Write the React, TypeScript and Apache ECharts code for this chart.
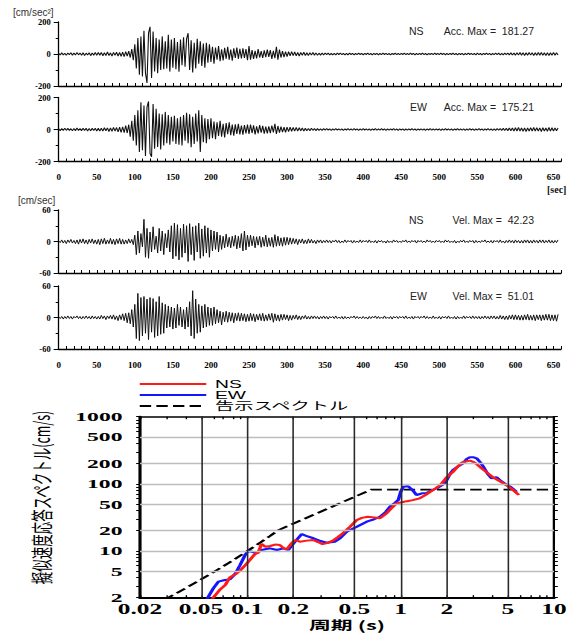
import React, { useEffect, useRef } from "react";
import * as echarts from "echarts";

// ---------------- waveform data (sampled every DT seconds) ----------------
const DT = 2;
const ACC_NS = [
  3,-6,7,-5,4,-8,6,-4,8,-7,5,-6,9,-5,6,-8,7,-9,5,-6,8,-10,6,-7,9,
  -8,10,-7,9,-11,8,-10,12,-9,7,-12,10,-8,11,-13,9,-14,12,-16,15,-13,18,-22,30,-38,
  60,-90,100,-130,110,-140,145,-120,-181.27,130,170,-150,140,-110,100,-120,90,-100,110,-95,80,-90,120,-110,90,
  -85,100,-95,75,-110,90,-70,105,-80,95,130,-100,85,-115,70,-90,95,-60,80,-75,65,-85,70,-55,60,
  -50,45,-60,40,-35,50,-45,30,-40,38,-30,45,-35,28,-42,35,-25,40,-30,32,-28,36,-24,30,-38,
  50,-35,25,-30,20,-28,30,-22,18,-25,22,-20,28,-18,24,-30,20,-26,45,-35,28,-22,18,-20,15,
  -16,14,-12,15,-10,13,-11,9,-12,10,-8,11,-9,7,-10,8,-6,9,-7,6,-8,5,-7,6,-5,
  5,-4,6,-5,3,-6,4,-5,6,-3,5,-4,3,-5,4,-6,5,-3,4,-5,3,-4,5,-3,4,
  -5,4,-3,5,-4,3,-5,4,-3,4,-5,3,-4,5,-3,4,-4,3,-5,4,-3,5,-4,3,-4,
  4,-3,5,-4,3,-4,5,-3,4,-5,3,-4,4,-3,5,-4,3,-5,4,-3,4,-4,5,-3,4,
  -4,5,-3,4,-5,3,-4,4,-3,5,-4,3,-5,4,-3,4,-5,3,-4,5,-3,4,-4,3,-5,
  5,-4,3,-5,4,-3,5,-4,4,-5,3,-4,5,-4,6,-5,4,-6,5,-4,6,-5,7,-6,5,
  -7,8,-6,9,-7,8,-9,7,-8,9,-6,8,-9,7,-8,10,-7,9,-8,7,-9,8,-10,7,-8,
  9,-7,8,-6,
];
const ACC_EW = [
  4,-7,5,-6,8,-5,7,-6,5,-8,6,-7,9,-6,5,-7,8,-6,7,-9,6,-8,7,-6,8,
  -9,7,-10,8,-9,11,-8,10,-12,9,-11,13,-10,12,-15,14,-18,16,-20,25,-22,30,-45,55,-70,
  90,-100,120,-140,170,-130,150,-165,140,175.21,-150,-170,160,-120,130,-110,100,-125,95,-100,110,-85,90,-95,80,
  -75,85,-90,70,-95,80,-100,90,-70,105,-85,95,-110,80,-90,100,-75,120,-140,90,-80,70,-85,65,-60,
  70,-55,50,-60,45,-40,55,-45,35,-50,40,-30,45,-35,30,-38,32,-28,35,-30,25,-32,28,-24,30,
  -28,30,-22,26,-30,20,-25,28,-20,22,-26,18,-24,20,-22,25,-18,35,-28,22,-20,18,-16,14,-17,
  15,-13,14,-11,12,-10,13,-9,11,-8,10,-9,7,-8,6,-7,8,-5,6,-7,5,-6,4,-5,6,
  -4,5,-3,4,-5,3,-4,5,-3,4,-4,3,-5,4,-3,5,-4,3,-4,5,-3,4,-5,3,-4,
  5,-3,4,-4,3,-5,4,-3,5,-4,3,-4,5,-3,4,-5,3,-4,4,-3,5,-4,3,-5,4,
  -3,4,-5,3,-4,4,-3,5,-4,3,-5,4,-3,4,-4,3,-5,4,-3,5,-4,3,-4,4,-3,
  4,-5,3,-4,5,-3,4,-4,3,-5,4,-3,5,-4,3,-4,4,-5,3,-4,5,-3,4,-5,3,
  -4,5,-3,4,-5,4,-3,5,-4,3,-5,4,-6,5,-4,6,-5,7,-6,8,-7,9,-8,10,-9,
  11,-9,12,-10,9,-11,10,-12,9,-10,11,-9,12,-10,11,-9,10,-12,11,-10,9,-11,12,-10,11,
  -9,10,-8,9,
];
const VEL_NS = [
  1,-2,3,-3,2,-4,3,-2,4,-3,2,-4,3,-5,4,-3,5,-4,3,-5,4,-3,5,-4,3,
  -5,4,-6,5,-4,6,-5,3,-4,6,-5,4,-6,5,-4,6,-5,4,-5,3,-4,5,-3,4,-6,
  12,-25,20,-22,15,-10,42.23,-30,25,-32,18,-20,28,-15,10,-22,25,-18,20,-25,15,-12,22,-20,30,
  -33,35,-28,32,-35,25,-30,33,-22,30,-38,34,-25,28,-36,30,-20,35,-32,24,-28,30,-22,26,-30,
  22,-18,20,-15,18,-20,12,-15,10,-12,14,-10,8,-12,10,-9,12,-14,10,-12,15,-18,20,-16,12,
  -10,12,-8,10,-12,9,-7,10,-11,8,-9,12,-10,7,-9,8,-11,13,-9,10,-8,7,-9,8,-7,
  8,-6,7,-5,6,-4,5,-6,4,-3,5,-4,3,-4,5,-3,4,-3,2,-4,3,-2,3,-3,2,
  -2,3,-2,2,-3,2,-1,3,-2,2,-3,1,-2,3,-2,2,-1,2,-3,2,-2,1,-2,3,-2,
  2,-1,2,-2,3,-2,1,-2,2,-3,2,-1,2,-2,1,-3,2,-2,1,-2,3,-1,2,-2,1,
  -2,2,-1,3,-2,1,-2,2,-1,2,-3,2,-1,2,-2,1,-2,3,-1,2,-2,1,-2,2,-1,
  2,-2,1,-2,3,-1,2,-2,1,-2,2,-3,1,-2,2,-1,3,-2,1,-2,2,-1,2,-3,2,
  -2,1,-2,2,-1,3,-2,1,-2,2,-3,2,-1,2,-2,3,-2,1,-3,2,-2,3,-2,2,-3,
  3,-2,2,-3,2,-3,3,-2,3,-3,2,-3,3,-2,2,-3,3,-2,3,-3,2,-2,3,-3,2,
  -3,2,-2,3,
];
const VEL_EW = [
  1,-2,2,-3,2,-2,3,-2,2,-3,2,-1,3,-2,2,-3,2,-2,3,-2,2,-3,3,-2,2,
  -3,2,-3,4,-2,3,-4,3,-2,4,-3,5,-4,3,-6,5,-4,7,-6,8,-10,9,-12,15,-18,
  25,-40,46,-44,38,-35,40,-30,35,-42,38,-28,36,-38,30,-35,40,-32,28,-30,25,-20,22,-18,20,
  -22,18,-20,25,-15,20,-18,15,-22,20,-18,30,-35,51.01,-40,35,-30,25,-28,22,-20,25,-18,20,-15,
  18,-15,20,-12,15,-10,12,-14,10,-8,12,-9,10,-7,9,-10,8,-6,9,-7,8,-6,7,-8,6,
  -7,8,-6,7,-8,6,-5,7,-6,8,-7,5,-6,7,-5,8,-9,7,-6,5,-7,6,-5,6,-4,
  5,-6,4,-5,4,-3,5,-4,3,-4,3,-2,4,-3,2,-3,3,-2,3,-2,2,-3,2,-2,3,
  -2,2,-3,2,-1,2,-2,3,-2,1,-2,2,-3,2,-2,1,-2,2,-1,3,-2,2,-2,1,-2,
  2,-2,1,-3,2,-2,2,-1,3,-2,2,-2,1,-2,3,-2,1,-2,2,-3,2,-1,2,-2,2,
  -1,2,-2,3,-2,1,-2,2,-3,2,-1,2,-2,2,-1,3,-2,2,-2,1,-2,3,-2,1,-2,
  2,-3,2,-1,2,-2,3,-2,1,-2,2,-3,2,-2,1,-2,3,-2,2,-1,2,-2,3,-2,2,
  -2,2,-3,2,-2,3,-2,2,-3,3,-2,3,-3,2,-3,4,-3,3,-4,3,-4,4,-3,5,-4,
  5,-4,4,-5,4,-5,5,-4,6,-5,4,-5,5,-6,5,-4,5,-6,5,-5,6,-5,6,-6,5,
  -6,5,-7,6,
];
const TIME_TICK_LABEL_STEP = 50;
const ACC_RANGE = 200;
const VEL_RANGE = 60;
const TIME_MAX = 660;

// ---------------- response spectrum data ----------------
const NS_T = [0.058,0.060,0.066,0.072,0.077,0.084,0.090,0.097,0.104,0.112,0.118,0.124,0.131,0.141,0.152,0.163,0.172,0.181,0.195,0.205,0.22,0.245,0.27,0.29,0.31,0.33,0.36,0.39,0.42,0.47,0.518,0.56,0.61,0.67,0.734,0.81,0.87,0.94,1.02,1.10,1.2,1.33,1.45,1.56,1.7,1.82,2.0,2.2,2.35,2.5,2.65,2.83,3.0,3.13,3.35,3.6,4.0,4.5,5.0,5.4,5.9];
const NS_V = [1.8,2.0,2.6,3.1,4.0,4.5,5.1,6.1,7.3,8.9,9.4,12.7,11.5,11.8,12.4,12.2,11.0,10.5,13.0,14.5,13.7,14.2,14.5,13.5,12.6,13.0,14.1,16.0,18.3,23.0,28.8,31.0,32.2,31.5,30.6,36.2,43,51,53,55,57,60.6,68,76,86,96,125,151,180,206,215,221,210,197,172,151,125,107,92,81,68];
const EW_T = [0.053,0.0553,0.0601,0.0649,0.0716,0.0772,0.0838,0.0897,0.097,0.1013,0.1065,0.114,0.124,0.141,0.156,0.172,0.185,0.205,0.227,0.245,0.27,0.30,0.33,0.373,0.403,0.445,0.518,0.601,0.67,0.734,0.80,0.853,0.92,0.966,1.0,1.04,1.12,1.2,1.27,1.38,1.48,1.6,1.72,1.85,1.95,2.1,2.2,2.4,2.56,2.7,2.83,3.0,3.13,3.3,3.46,3.7,3.93,4.23,4.5,4.91,5.2,5.7];
const EW_V = [1.8,2.0,2.76,3.47,3.67,3.75,4.6,6.1,8.7,10.0,9.7,9.2,10.3,10.9,10.3,10.9,10.3,13.7,17.8,16.5,15.4,14.0,13.2,13.7,15.4,19.3,22.9,27.2,29.5,32.2,38,45.6,52,57.2,75,90,92,80,68,72,73,80,85.6,95,102,140,161,185,202,235,249,248,240,210,180,140,120,125,110,96,90,76];
const KOKUJI_T = [0.02,0.03,0.04,0.05,0.06,0.08,0.1,0.12,0.14,0.16,0.64,10];
const KOKUJI_V = [1.21,1.96,2.80,3.74,4.77,7.13,9.87,12.99,16.49,20.37,81.5,81.5];

const X_LABELS = [0.02,0.05,0.1,0.2,0.5,1,2,5,10];
const X_TICKS = [0.02,0.03,0.04,0.05,0.06,0.07,0.08,0.09,0.1,0.2,0.3,0.4,0.5,0.6,0.7,0.8,0.9,1,2,3,4,5,6,7,8,9,10];
const Y_LABELS = [2,5,10,20,50,100,200,500,1000];
const Y_TICKS = [2,3,4,5,6,7,8,9,10,20,30,40,50,60,70,80,90,100,200,300,400,500,600,700,800,900,1000];
const X_GRID = [0.05,0.1,0.2,0.5,1,2,5];
const Y_GRID = [5,10,20,50,100,200,500];
const X_MIN = 0.02, X_MAX = 10, Y_MIN = 2, Y_MAX = 1000;

// ---------------- styling ----------------
const SERIF = "'Liberation Serif', 'Times New Roman', serif";
const SANS = "'Liberation Sans', Arial, sans-serif";
const CJK = "'Liberation Sans', 'Noto Sans CJK JP', sans-serif";
const S = 1.75; // horizontal stretch of spectrum panel
const SPEC_TOP = 376;
const SPEC_W = 574 / S;
const SPEC_H = 633 - SPEC_TOP;

const lg = (v: number) => Math.log10(v);

function waveOption(): any {
  const grids = [
    { left: 58.7, top: 22, width: 502.4, height: 64 },
    { left: 58.7, top: 97.5, width: 502.4, height: 64 },
    { left: 58.7, top: 210, width: 502.4, height: 63 },
    { left: 58.7, top: 286, width: 502.4, height: 63 },
  ];
  const traces = [ACC_NS, ACC_EW, VEL_NS, VEL_EW];
  const ranges = [ACC_RANGE, ACC_RANGE, VEL_RANGE, VEL_RANGE];
  const widths = [1.1, 1.1, 1.0, 1.0];
  const xAxis = grids.map((_, i) => ({
    type: "value", gridIndex: i, min: 0, max: TIME_MAX, interval: 10,
    axisLine: { show: true, onZero: false, lineStyle: { color: "#000", width: 1.3 } },
    axisTick: { show: true, inside: true, length: 3, lineStyle: { color: "#000", width: 1 } },
    axisLabel: {
      show: i === 1 || i === 3, color: "#000", fontFamily: SERIF, fontWeight: "bold", fontSize: 9, margin: 11,
      formatter: (v: number) => (v % TIME_TICK_LABEL_STEP === 0 && v <= 650 ? String(v) : ""),
    },
    splitLine: { show: false },
  }));
  const yAxis = grids.map((_, i) => ({
    type: "value", gridIndex: i, min: -ranges[i], max: ranges[i], interval: ranges[i],
    axisLine: { show: true, onZero: false, lineStyle: { color: "#000", width: 1.3 } },
    axisTick: { show: true, length: 5, lineStyle: { color: "#000", width: 1 } },
    minorTick: { show: true, splitNumber: 2, length: 3, lineStyle: { color: "#000", width: 1 } },
    axisLabel: { color: "#000", fontFamily: SERIF, fontWeight: "bold", fontSize: 8.5, margin: 8 },
    splitLine: { show: false },
  }));
  const series = traces.map((arr, i) => ({
    type: "line", xAxisIndex: i, yAxisIndex: i, symbol: "none", silent: true,
    data: arr.map((v, k) => [k * DT, v]),
    lineStyle: { color: "#111", width: widths[i] },
  }));
  const t = (text: string, x: number, y: number, extra: any = {}) => ({
    type: "text", x, y, silent: true,
    style: { text, fill: "#222", fontFamily: SANS, fontSize: 10.5, verticalAlign: "middle", ...extra },
  });
  const graphic = [
    t("[cm/sec²]", 13, 12.5, { fill: "#333", fontSize: 10 }),
    t("[cm/sec]", 18, 200, { fill: "#333", fontSize: 10 }),
    t("[sec]", 547, 189, { fontFamily: SERIF, fontWeight: "bold", fontSize: 10, fill: "#111" }),
    t("[sec]", 547, 379, { fontFamily: SERIF, fontWeight: "bold", fontSize: 10, fill: "#111" }),
    t("NS", 409, 31),
    t("Acc. Max =  181.27", 534, 31, { align: "right" }),
    t("EW", 410, 107),
    t("Acc. Max =  175.21", 534, 107, { align: "right" }),
    t("NS", 409, 219.5),
    t("Vel. Max =  42.23", 534, 219.5, { align: "right" }),
    t("EW", 410, 295.5),
    t("Vel. Max =  51.01", 534, 295.5, { align: "right" }),
  ];
  return { animation: false, backgroundColor: "#fff", grid: grids, xAxis, yAxis, series, graphic };
}

function specOption(): any {
  const zip = (ts: number[], vs: number[]) => ts.map((tv, i) => [lg(tv), lg(vs[i])]);
  const labelFmt = (list: number[]) => (v: number) => {
    const f = list.find((x) => Math.abs(lg(x) - v) < 1e-6);
    return f === undefined ? "" : String(f);
  };
  const grid = { left: 140 / S, top: 416.7 - SPEC_TOP, width: 414 / S, height: 181 };
  const xBase = { type: "value", min: lg(X_MIN), max: lg(X_MAX), splitLine: { show: false } };
  const yBase = { type: "value", min: lg(Y_MIN), max: lg(Y_MAX), splitLine: { show: false } };
  const xAxis = [
    {
      ...xBase, position: "bottom",
      axisLine: { show: true, onZero: false, lineStyle: { color: "#000", width: 2 } },
      axisTick: { show: true, inside: true, length: 2.5, customValues: X_TICKS.map(lg), lineStyle: { color: "#000", width: 0.8 } },
      axisLabel: {
        customValues: X_LABELS.map(lg), formatter: labelFmt(X_LABELS),
        color: "#000", fontFamily: SERIF, fontWeight: "bold", fontSize: 14.5, margin: 6, lineHeight: 11,
      },
    },
    {
      ...xBase, position: "top",
      axisLine: { show: true, onZero: false, lineStyle: { color: "#000", width: 1.5 } },
      axisTick: { show: true, inside: true, length: 2.5, customValues: X_TICKS.map(lg), lineStyle: { color: "#000", width: 0.8 } },
      axisLabel: { show: false },
    },
  ];
  const yAxis = [
    {
      ...yBase, position: "left",
      axisLine: { show: true, onZero: false, lineStyle: { color: "#000", width: 1.8 } },
      axisTick: { show: true, inside: false, length: 2.2, customValues: Y_TICKS.map(lg), lineStyle: { color: "#000", width: 1 } },
      axisLabel: {
        customValues: Y_LABELS.map(lg), formatter: labelFmt(Y_LABELS),
        color: "#000", fontFamily: SERIF, fontWeight: "bold", fontSize: 13.5, margin: 10, lineHeight: 11,
      },
    },
    {
      ...yBase, position: "right",
      axisLine: { show: true, onZero: false, lineStyle: { color: "#000", width: 1.3 } },
      axisTick: { show: true, inside: false, length: 2.2, customValues: Y_TICKS.map(lg), lineStyle: { color: "#000", width: 1 } },
      axisLabel: { show: false },
    },
  ];
  const series = [
    {
      name: "_grid", type: "line", data: [], z: 1, silent: true,
      markLine: {
        silent: true, symbol: ["none", "none"], label: { show: false }, animation: false,
        data: [
          ...Y_GRID.map((v) => ({ yAxis: lg(v), lineStyle: { color: "#bdbdbd", width: 1.3, type: "solid" } })),
          ...X_GRID.map((v) => ({ xAxis: lg(v), lineStyle: { color: "#2a2a2a", width: 0.9, type: "solid" } })),
        ],
      },
    },
    {
      name: "告示スペクトル", type: "line", symbol: "none", z: 2, silent: true,
      data: zip(KOKUJI_T, KOKUJI_V),
      lineStyle: { color: "#000", width: 1.8, type: [6.5, 3] }, itemStyle: { color: "#000" },
    },
    {
      name: "EW", type: "line", symbol: "none", z: 3, silent: true,
      data: zip(EW_T, EW_V),
      lineStyle: { color: "#1515ff", width: 2 }, itemStyle: { color: "#1515ff" },
    },
    {
      name: "NS", type: "line", symbol: "none", z: 4, silent: true,
      data: zip(NS_T, NS_V),
      lineStyle: { color: "#ff1a1a", width: 2 }, itemStyle: { color: "#ff1a1a" },
    },
  ];
  const legend = {
    data: ["NS", "EW", "告示スペクトル"], orient: "vertical", left: 138 / S, top: 2.5, padding: 0,
    itemWidth: 38, itemHeight: 11, itemGap: 0, selectedMode: false,
    itemStyle: { opacity: 0 },
    textStyle: { fontFamily: CJK, fontSize: 11, color: "#000", lineHeight: 11 },
  };
  const graphic = [
    {
      type: "text", x: 40 / S, y: 497.5 - SPEC_TOP, rotation: Math.PI / 2, silent: true,
      style: { text: "擬似速度応答スペクトル(cm/s)", fill: "#000", fontFamily: "'Noto Sans CJK JP', sans-serif", fontSize: 12.5, align: "center", verticalAlign: "middle" },
    },
    {
      type: "text", x: 347 / S, y: 624.5 - SPEC_TOP, silent: true,
      style: { text: "周期 (s)", fill: "#000", fontFamily: "'Noto Sans CJK JP', sans-serif", fontWeight: "bold", fontSize: 12.5, align: "center", verticalAlign: "middle" },
    },
  ];
  return { animation: false, backgroundColor: "#fff", grid, xAxis, yAxis, series, legend, graphic };
}

export default function App() {
  const topRef = useRef<HTMLDivElement>(null);
  const specRef = useRef<HTMLDivElement>(null);
  useEffect(() => {
    const c1 = echarts.init(topRef.current!, null, { renderer: "svg" });
    c1.setOption(waveOption());
    const c2 = echarts.init(specRef.current!, null, { renderer: "svg" });
    c2.setOption(specOption());
    return () => {
      c1.dispose();
      c2.dispose();
    };
  }, []);
  return (
    <div style={{ position: "absolute", left: 0, top: 0, width: 574, height: 633, background: "#fff", overflow: "hidden" }}>
      <div ref={topRef} style={{ position: "absolute", left: 0, top: 0, width: 574, height: 633 }} />
      <div
        ref={specRef}
        style={{
          position: "absolute", left: 0, top: SPEC_TOP, width: SPEC_W, height: SPEC_H,
          transform: `scaleX(${S})`, transformOrigin: "0 0", background: "#fff",
        }}
      />
    </div>
  );
}
